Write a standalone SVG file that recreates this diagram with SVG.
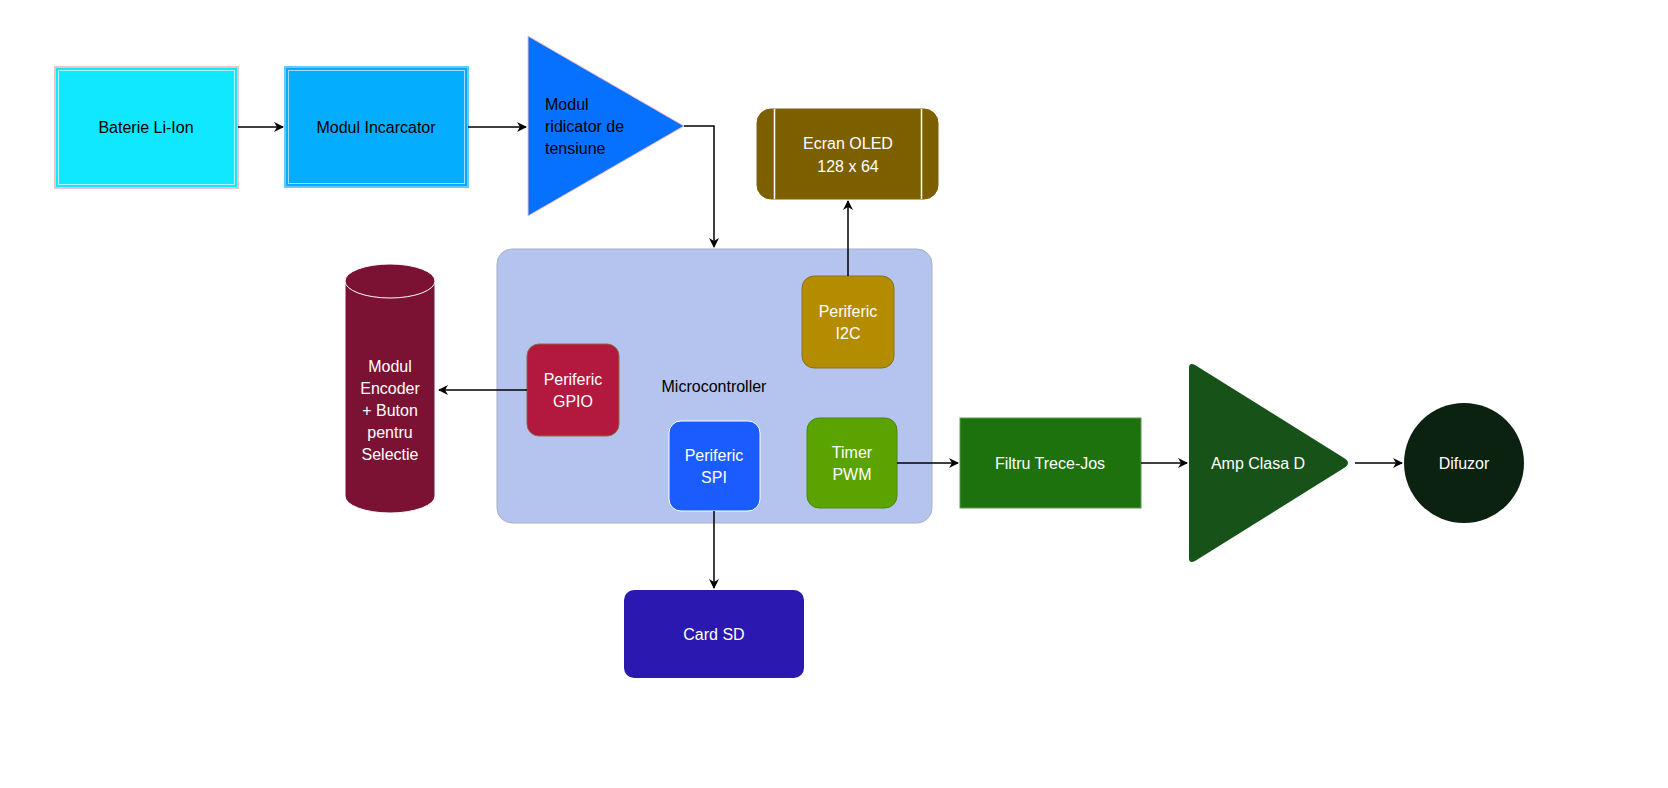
<svg xmlns="http://www.w3.org/2000/svg" width="1668" height="788" viewBox="0 0 1668 788">
<style>
text{font-family:"Liberation Sans",Arial,sans-serif;font-size:16px;text-anchor:middle;dominant-baseline:central}
.w{fill:#fff}
.c{fill:none;stroke:#000;stroke-width:1.5}
</style>
<defs><marker id="a" markerWidth="10" markerHeight="10" refX="9" refY="5" orient="auto" markerUnits="userSpaceOnUse"><path d="M0,0L10,5L0,10L3,5Z" fill="#000"/></marker></defs>
<rect width="1668" height="788" fill="#fff"/>
<g id="baterie"><rect x="55" y="67" width="183" height="121" fill="#10e8ff" stroke="#f4c0c8" stroke-width="2"/><rect x="58.5" y="70.5" width="176" height="114" fill="none" stroke="#b0f4ff"/><text x="146" y="127">Baterie Li-Ion</text></g>
<g id="incarcator"><rect x="285" y="67" width="183" height="120" fill="#05adff" stroke="#66c8ff" stroke-width="2"/><rect x="288.5" y="70.5" width="176" height="113" fill="none" stroke="#a0dcff"/><text x="376" y="127">Modul Incarcator</text></g>
<g id="ridicator"><path d="M528,36L684,126L528,216Z" fill="#0771ff" stroke="#f4c0c8"/><text x="545" y="104" style="text-anchor:start">Modul</text><text x="545" y="126" style="text-anchor:start">ridicator de</text><text x="545" y="148" style="text-anchor:start">tensiune</text></g>
<g id="oled"><rect x="757" y="109" width="181" height="90" rx="14" fill="#7c6000" stroke="#7c6000"/><path d="M774.5,109V199M921.5,109V199" stroke="#fff" stroke-width="1.5"/><text class="w" x="848" y="143">Ecran OLED</text><text class="w" x="848" y="166">128 x 64</text></g>
<g id="microcontroller"><rect x="497" y="249" width="435" height="274" rx="15" fill="#b4c4ee" stroke="#aab0c8"/><text x="714" y="386">Microcontroller</text></g>
<g id="i2c"><rect x="802" y="276" width="92" height="92" rx="12" fill="#b48c00" stroke="#8c7020"/><text class="w" x="848" y="311">Periferic</text><text class="w" x="848" y="333">I2C</text></g>
<g id="gpio"><rect x="527" y="344" width="92" height="92" rx="12" fill="#b3193f" stroke="#8a6a3a"/><text class="w" x="573" y="379">Periferic</text><text class="w" x="573" y="401">GPIO</text></g>
<g id="spi"><rect x="669" y="421" width="91" height="90" rx="12" fill="#1a5cff" stroke="#fff"/><text class="w" x="714" y="455">Periferic</text><text class="w" x="714" y="477">SPI</text></g>
<g id="pwm"><rect x="807" y="418" width="90" height="90" rx="12" fill="#5aa300" stroke="#4a8a10"/><text class="w" x="852" y="452">Timer</text><text class="w" x="852" y="474">PWM</text></g>
<g id="encoder"><path d="M345,281V496A45,17 0 0 0 435,496V281" fill="#7c1233" stroke="#fff"/><ellipse cx="390" cy="281" rx="45" ry="17" fill="#7c1233" stroke="#fff"/><text class="w" x="390" y="366">Modul</text><text class="w" x="390" y="388">Encoder</text><text class="w" x="390" y="410">+ Buton</text><text class="w" x="390" y="432">pentru</text><text class="w" x="390" y="454">Selectie</text></g>
<g id="cardsd"><rect x="624" y="590" width="180" height="88" rx="10" fill="#2b18b0"/><text class="w" x="714" y="634">Card SD</text></g>
<g id="filtru"><rect x="960" y="418" width="181" height="90" fill="#1e720e" stroke="#5a9a50"/><text class="w" x="1050" y="463">Filtru Trece-Jos</text></g>
<g id="amp"><path d="M1189,368Q1189,362 1195,365L1344,458Q1352,463 1344,468L1195,561Q1189,564 1189,558Z" fill="#175218"/><text class="w" x="1258" y="463">Amp Clasa D</text></g>
<g id="difuzor"><circle cx="1464" cy="463" r="60" fill="#0c2210"/><text class="w" x="1464" y="463">Difuzor</text></g>
<g id="connectors">
<path class="c" d="M238,127H283" marker-end="url(#a)"/>
<path class="c" d="M468,127H526" marker-end="url(#a)"/>
<path class="c" d="M684,126H714V247" marker-end="url(#a)"/>
<path class="c" d="M848,276V201" marker-end="url(#a)"/>
<path class="c" d="M527,390H439" marker-end="url(#a)"/>
<path class="c" d="M714,511V588" marker-end="url(#a)"/>
<path class="c" d="M897,463H958" marker-end="url(#a)"/>
<path class="c" d="M1141,463H1187" marker-end="url(#a)"/>
<path class="c" d="M1355,463H1402" marker-end="url(#a)"/>
</g>
</svg>
